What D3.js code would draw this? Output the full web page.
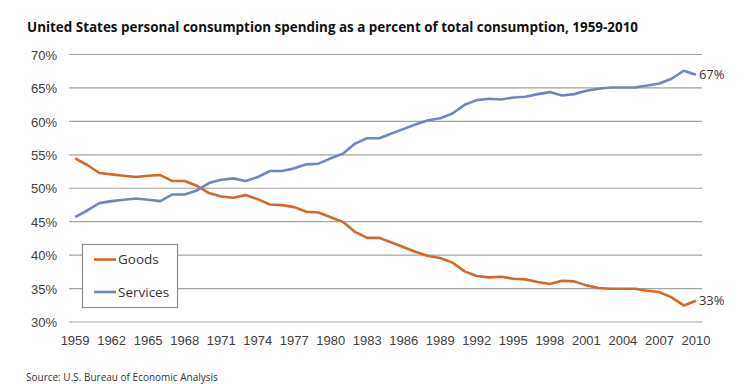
<!DOCTYPE html>
<html>
<head>
<meta charset="utf-8">
<script src="https://cdn.jsdelivr.net/npm/d3@7"></script>
<style>
    body { margin: 0; background: #fff; }
    svg { display: block; font-family: "Open Sans", sans-serif; }
    .tick text { fill: #404040; font-size: 13px; }
    .grid line { stroke: #a3a3a3; stroke-width: 1.2; }
    .line { fill: none; stroke-width: 2.6; stroke-linejoin: round; }
</style>
</head>
<body>
<div id="chart"></div>
<script>
var years = d3.range(1959, 2011);
var xTicks = d3.range(1959, 2011, 3);
var yTicks = [30, 35, 40, 45, 50, 55, 60, 65, 70];

var goods = [54.4, 53.4, 52.2, 52.0, 51.8, 51.6, 51.8, 51.9, 51.0, 51.0,
    50.3, 49.2, 48.7, 48.5, 48.9, 48.3, 47.5, 47.4, 47.1, 46.4,
    46.3, 45.6, 44.9, 43.4, 42.5, 42.5, 41.8, 41.1, 40.4, 39.8,
    39.5, 38.8, 37.5, 36.8, 36.6, 36.7, 36.4, 36.3, 35.9, 35.6,
    36.1, 36.0, 35.4, 35.0, 34.9, 34.9, 34.9, 34.6, 34.4, 33.6,
    32.4, 33.1];

var services = [45.6, 46.6, 47.7, 48.0, 48.2, 48.4, 48.2, 48.0, 49.0, 49.0,
    49.6, 50.7, 51.2, 51.4, 51.0, 51.6, 52.5, 52.5, 52.9, 53.5,
    53.6, 54.4, 55.1, 56.6, 57.4, 57.4, 58.1, 58.8, 59.5, 60.1,
    60.4, 61.1, 62.4, 63.1, 63.3, 63.2, 63.5, 63.6, 64.0, 64.3,
    63.8, 64.0, 64.5, 64.8, 65.0, 65.0, 65.0, 65.3, 65.6, 66.3,
    67.5, 66.9];

var seriesNames = ["Goods", "Services"];
var seriesColors = ["#d2692b", "#6f87bd"];
var endLabels = ["33%", "67%"];

var width = 750, height = 384;

var svg = d3.select("#chart")
    .append("svg")
    .attr("width", width)
    .attr("height", height);

// scales
var x = d3.scaleBand()
    .domain(years)
    .range([69, 702]);

var y = d3.scaleLinear()
    .domain([30, 70])
    .range([321.5, 54]);

function xc(yr) { return x(yr) + x.bandwidth() / 2; }

// horizontal gridlines
svg.append("g")
    .attr("class", "grid")
    .attr("transform", "translate(69,0)")
    .call(d3.axisLeft(y)
        .tickValues(yTicks)
        .tickSize(-633)
        .tickFormat(""))
    .call(g => g.select(".domain").remove());

// y axis labels
svg.append("g")
    .attr("transform", "translate(57,0)")
    .call(d3.axisLeft(y)
        .tickValues(yTicks)
        .tickSize(0)
        .tickPadding(0)
        .tickFormat(d => d + "%"))
    .call(g => g.select(".domain").remove())
    .selectAll("text")
    .attr("dy", "0.4em");

// x axis labels
svg.append("g")
    .attr("transform", "translate(0,321.5)")
    .call(d3.axisBottom(x)
        .tickValues(xTicks)
        .tickSize(0)
        .tickPadding(14))
    .call(g => g.select(".domain").remove());

// lines
var lineGen = d3.line()
    .x((d, i) => xc(years[i]))
    .y(d => y(d));

[goods, services].forEach(function (s, k) {
    svg.append("path")
        .datum(s)
        .attr("class", "line")
        .attr("stroke", seriesColors[k])
        .attr("d", lineGen);

    svg.append("text")
        .attr("x", xc(years[years.length - 1]) + 3)
        .attr("y", y(s[s.length - 1]))
        .attr("dy", "0.35em")
        .attr("font-size", 13)
        .attr("fill", "#333")
        .text(endLabels[k]);
});

// legend
var legend = svg.append("g");
legend.append("rect")
    .attr("x", 82.5)
    .attr("y", 244.5)
    .attr("width", 95)
    .attr("height", 63)
    .attr("fill", "#fff")
    .attr("stroke", "#8c8c8c")
    .attr("stroke-width", 1.2);

seriesNames.forEach(function (name, k) {
    var ly = 259.5 + k * 32.5;
    legend.append("line")
        .attr("x1", 94).attr("x2", 116)
        .attr("y1", ly).attr("y2", ly)
        .attr("stroke", seriesColors[k])
        .attr("stroke-width", 2.6);
    legend.append("text")
        .attr("x", 118)
        .attr("y", ly)
        .attr("dy", "0.36em")
        .attr("font-size", 13.5)
        .attr("fill", "#333")
        .text(name);
});

// title
svg.append("text")
    .attr("x", 27)
    .attr("y", 32)
    .attr("font-size", 14)
    .attr("font-weight", "bold")
    .attr("fill", "#111")
    .attr("textLength", 611)
    .attr("lengthAdjust", "spacingAndGlyphs")
    .text("United States personal consumption spending as a percent of total consumption, 1959-2010");

// source
svg.append("text")
    .attr("x", 26)
    .attr("y", 381)
    .attr("font-size", 10)
    .attr("fill", "#333")
    .text("Source: U.S. Bureau of Economic Analysis");
</script>
</body>
</html>
